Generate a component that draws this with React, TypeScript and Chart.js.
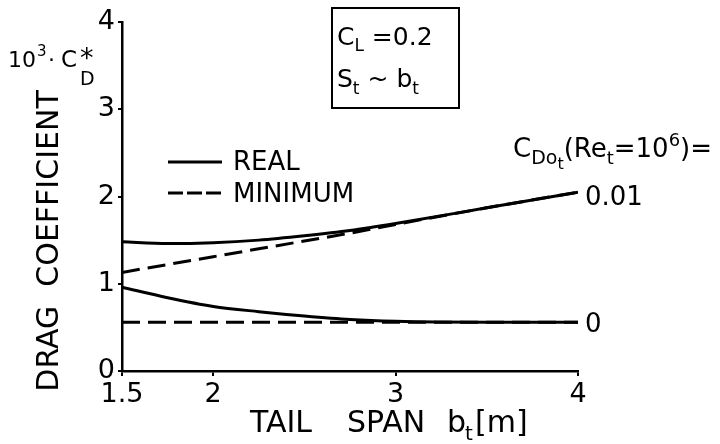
import React, { useEffect, useRef } from "react";
import { Chart, registerables } from "chart.js";

Chart.register(...registerables);

const FONT = '"DejaVu Sans"';

// Tail span b_t [m]
const spans = [1.5, 1.75, 2, 2.25, 2.5, 2.75, 3, 3.5, 4];
// C_Do_t = 0.01
const realHigh = [1.48, 1.46, 1.47, 1.5, 1.55, 1.61, 1.69, 1.87, 2.05];
const minHigh = [1.13, 1.22, 1.31, 1.4, 1.49, 1.58, 1.68, 1.87, 2.05];
// C_Do_t = 0
const realLow = [0.96, 0.84, 0.74, 0.68, 0.63, 0.59, 0.57, 0.56, 0.56];
const minLow = [0.56, 0.56, 0.56, 0.56, 0.56, 0.56, 0.56, 0.56, 0.56];

const xTicks = [1.5, 2, 3, 4];
const yTicks = [0, 1, 2, 3, 4];

const pts = (ys: number[]) => spans.map((x, i) => ({ x, y: ys[i] }));

type Part = [string, number, number];
function rich(ctx: CanvasRenderingContext2D, x: number, y: number, parts: Part[]) {
  let cx = x;
  for (const [t, size, dy] of parts) {
    ctx.font = `${size}px ${FONT}`;
    ctx.fillText(t, cx, y + dy);
    cx += ctx.measureText(t).width;
  }
  return cx;
}

const textPlugin = {
  id: "texts",
  afterDraw(chart: any) {
    const ctx: CanvasRenderingContext2D = chart.ctx;
    ctx.save();
    ctx.fillStyle = "#000";
    ctx.strokeStyle = "#000";
    ctx.textAlign = "left";
    ctx.textBaseline = "alphabetic";

    // y label top: 10^3 · C*_D
    ctx.font = `22px ${FONT}`;
    ctx.fillText("10", 8, 67);
    ctx.font = `15px ${FONT}`;
    ctx.fillText("3", 37, 56);
    ctx.font = `22px ${FONT}`;
    ctx.fillText("·", 48, 67);
    ctx.font = `23px ${FONT}`;
    ctx.fillText("C", 61, 67);
    ctx.font = `27px ${FONT}`;
    ctx.fillText("*", 80, 67);
    ctx.font = `19px ${FONT}`;
    ctx.fillText("D", 80, 85);

    // rotated axis title
    ctx.save();
    ctx.translate(50, 241);
    ctx.rotate(-Math.PI / 2);
    ctx.textAlign = "center";
    ctx.textBaseline = "middle";
    ctx.font = `30px ${FONT}`;
    ctx.fillText("DRAG  COEFFICIENT", 0, 0);
    ctx.restore();

    // x axis title
    ctx.font = `30px ${FONT}`;
    ctx.fillText("TAIL", 250, 432);
    ctx.fillText("SPAN", 347, 432);
    ctx.fillText("b", 447, 432);
    ctx.font = `20px ${FONT}`;
    ctx.fillText("t", 465, 440);
    ctx.font = `30px ${FONT}`;
    ctx.fillText("[m]", 475, 432);

    // box
    ctx.lineWidth = 2;
    ctx.strokeRect(332, 8, 127, 100);
    rich(ctx, 337, 45, [["C", 25, 0], ["L", 17, 6], [" =0.2", 25, 0]]);
    rich(ctx, 337, 87, [["S", 25, 0], ["t", 17, 7], [" ~ b", 25, 0], ["t", 17, 7]]);

    // legend
    ctx.lineWidth = 3;
    ctx.beginPath();
    ctx.moveTo(168, 162);
    ctx.lineTo(222, 162);
    ctx.stroke();
    ctx.setLineDash([15, 4]);
    ctx.beginPath();
    ctx.moveTo(168, 193);
    ctx.lineTo(222, 193);
    ctx.stroke();
    ctx.setLineDash([]);
    ctx.font = `26px ${FONT}`;
    ctx.fillText("REAL", 233, 170);
    ctx.fillText("MINIMUM", 233, 202);

    // right labels
    rich(ctx, 513, 157, [
      ["C", 26, 0],
      ["Do", 19, 7],
      ["t", 16, 12],
      ["(Re", 26, 0],
      ["t", 18, 7],
      ["=10", 26, 0],
      ["6", 18, -11],
      [")=", 26, 0],
    ]);
    ctx.font = `26px ${FONT}`;
    ctx.fillText("0.01", 585, 205);
    ctx.fillText("0", 585, 332);
    ctx.restore();
  },
};

export default function App() {
  const ref = useRef<HTMLCanvasElement>(null);
  useEffect(() => {
    if (!ref.current) return;
    const line = (data: { x: number; y: number }[], dash: number[]) => ({
      data,
      borderColor: "#000",
      borderWidth: 3,
      borderDash: dash,
      pointRadius: 0,
      fill: false,
      cubicInterpolationMode: "monotone" as const,
    });
    const chart = new Chart(ref.current, {
      type: "line",
      data: {
        datasets: [
          line(pts(realHigh), []),
          line(pts(minHigh), [18, 8]),
          line(pts(realLow), []),
          line(pts(minLow), [18, 8]),
        ],
      },
      options: {
        responsive: false,
        animation: false,
        layout: { padding: { left: 82, right: 142, top: 22, bottom: 33 } },
        plugins: { legend: { display: false }, tooltip: { enabled: false } },
        scales: {
          x: {
            type: "linear",
            min: 1.5,
            max: 4,
            afterFit: (s: any) => {
              s.height = 40;
            },
            afterBuildTicks: (s: any) => {
              s.ticks = xTicks.map((v) => ({ value: v }));
            },
            ticks: {
              color: "#000",
              font: { size: 27, family: "DejaVu Sans" },
              padding: 3,
              maxRotation: 0,
              callback: (v: any) => String(v),
            },
            grid: { drawOnChartArea: false, color: "#000", tickLength: 5, lineWidth: 2 },
            border: { color: "#000", width: 2.5 },
          },
          y: {
            type: "linear",
            min: 0,
            max: 4,
            afterFit: (s: any) => {
              s.width = 40;
            },
            afterBuildTicks: (s: any) => {
              s.ticks = yTicks.map((v) => ({ value: v }));
            },
            ticks: {
              color: "#000",
              font: { size: 27, family: "DejaVu Sans" },
              padding: 3,
              callback: (v: any) => String(v),
            },
            grid: { drawOnChartArea: false, color: "#000", tickLength: 4, lineWidth: 2 },
            border: { color: "#000", width: 2.5 },
          },
        },
      },
      plugins: [textPlugin],
    });
    return () => chart.destroy();
  }, []);
  return (
    <div style={{ position: "absolute", left: 0, top: 0, width: 720, height: 444, background: "#fff" }}>
      <canvas ref={ref} width={720} height={444} style={{ display: "block" }} />
    </div>
  );
}
